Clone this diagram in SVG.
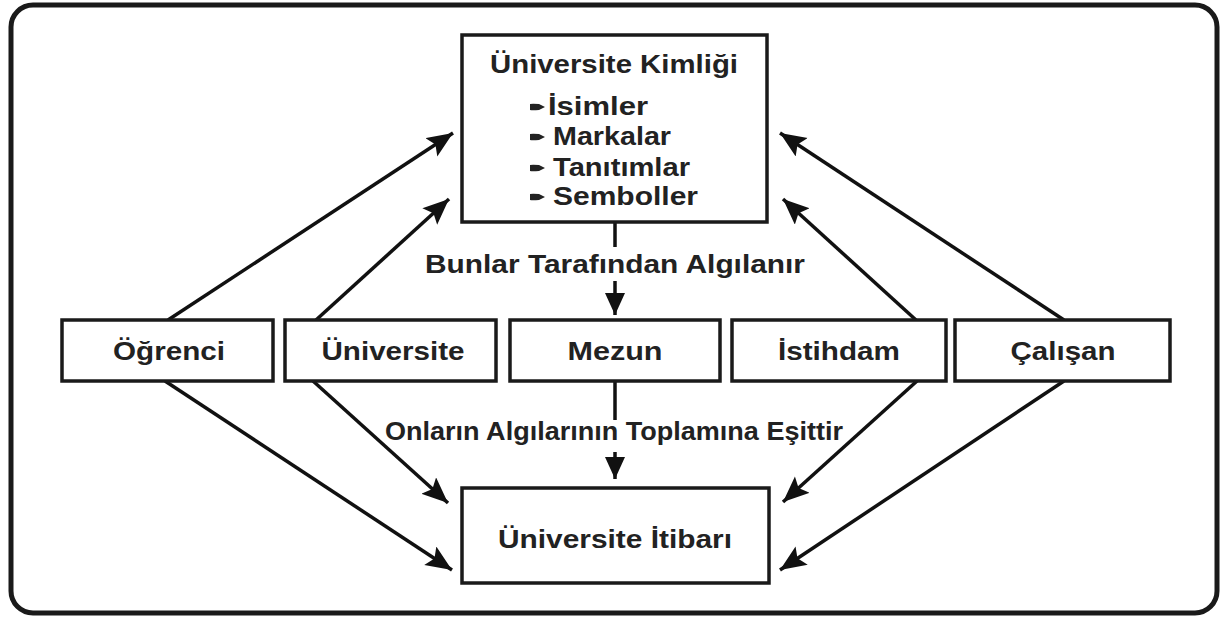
<svg xmlns="http://www.w3.org/2000/svg" width="1222" height="619" viewBox="0 0 1222 619">
<style>
.box{fill:#fff;stroke:#1a1a1a;stroke-width:3.5}
.t{font-family:"Liberation Sans",Arial,sans-serif;font-weight:bold;font-size:26px;fill:#222;text-anchor:middle}
.ti{font-family:"Liberation Sans",Arial,sans-serif;font-weight:bold;font-size:26px;fill:#222}
.c{stroke:#111;stroke-width:3.5;fill:none}
.b{fill:#222}
</style>
<defs>
<marker id="ah" markerUnits="userSpaceOnUse" markerWidth="30" markerHeight="24" refX="26" refY="11" orient="auto">
<path d="M0,0 L26,11 L0,22 L5,11 Z" fill="#111"/>
</marker>
<marker id="av" markerUnits="userSpaceOnUse" markerWidth="26" markerHeight="26" refX="22" refY="10" orient="auto">
<path d="M0,0 L22,10 L0,20 Z" fill="#111"/>
</marker>
</defs>
<rect x="0" y="0" width="1222" height="619" fill="#fff"/>
<rect id="frame" x="11" y="5" width="1206" height="608" rx="22" ry="22" fill="none" stroke="#1a1a1a" stroke-width="5"/>

<g id="connectors">
<line class="c" x1="615" y1="222" x2="615" y2="247"/>
<line class="c" x1="615" y1="281" x2="615" y2="315" marker-end="url(#av)"/>
<line class="c" x1="615" y1="381" x2="615" y2="420"/>
<line class="c" x1="615" y1="452" x2="615" y2="479" marker-end="url(#av)"/>
<line class="c" x1="168" y1="320" x2="453" y2="133" marker-end="url(#ah)"/>
<line class="c" x1="316" y1="320" x2="449" y2="199" marker-end="url(#ah)"/>
<line class="c" x1="916" y1="320" x2="783" y2="199" marker-end="url(#ah)"/>
<line class="c" x1="1064" y1="320" x2="780" y2="133" marker-end="url(#ah)"/>
<line class="c" x1="165" y1="381" x2="452" y2="570" marker-end="url(#ah)"/>
<line class="c" x1="313" y1="381" x2="448" y2="503" marker-end="url(#ah)"/>
<line class="c" x1="917" y1="381" x2="783" y2="502" marker-end="url(#ah)"/>
<line class="c" x1="1064" y1="381" x2="780" y2="570" marker-end="url(#ah)"/>
<text class="t" x="615" y="273" textLength="380" lengthAdjust="spacingAndGlyphs">Bunlar Tarafından Algılanır</text>
<text class="t" x="614" y="440" textLength="458" lengthAdjust="spacingAndGlyphs">Onların Algılarının Toplamına Eşittir</text>
</g>

<g id="kimlik">
<rect class="box" x="462" y="35" width="305" height="187"/>
<text class="t" x="614" y="73" textLength="248" lengthAdjust="spacingAndGlyphs">Üniversite Kimliği</text>
<path class="b" d="M530,104 Q532,103.5 539,104 L545,107 L539,110 Q532,110.5 530,110 Z"/>
<text class="ti" x="548" y="115" textLength="100" lengthAdjust="spacingAndGlyphs">İsimler</text>
<path class="b" d="M530,134 Q532,133.5 539,134 L545,137 L539,140 Q532,140.5 530,140 Z"/>
<text class="ti" x="553" y="145" textLength="118" lengthAdjust="spacingAndGlyphs">Markalar</text>
<path class="b" d="M530,165 Q532,164.5 539,165 L545,168 L539,171 Q532,171.5 530,171 Z"/>
<text class="ti" x="553" y="176" textLength="137" lengthAdjust="spacingAndGlyphs">Tanıtımlar</text>
<path class="b" d="M530,194 Q532,193.5 539,194 L545,197 L539,200 Q532,200.5 530,200 Z"/>
<text class="ti" x="553" y="205" textLength="145" lengthAdjust="spacingAndGlyphs">Semboller</text>
</g>

<g id="ogrenci">
<rect class="box" x="62" y="320" width="211" height="61"/>
<text class="t" x="169" y="360" textLength="112" lengthAdjust="spacingAndGlyphs">Öğrenci</text>
</g>
<g id="universite">
<rect class="box" x="285" y="320" width="211" height="61"/>
<text class="t" x="393" y="360" textLength="143" lengthAdjust="spacingAndGlyphs">Üniversite</text>
</g>
<g id="mezun">
<rect class="box" x="510" y="320" width="210" height="61"/>
<text class="t" x="615" y="360" textLength="95" lengthAdjust="spacingAndGlyphs">Mezun</text>
</g>
<g id="istihdam">
<rect class="box" x="732" y="320" width="214" height="61"/>
<text class="t" x="839" y="360" textLength="122" lengthAdjust="spacingAndGlyphs">İstihdam</text>
</g>
<g id="calisan">
<rect class="box" x="955" y="320" width="215" height="61"/>
<text class="t" x="1063" y="360" textLength="105" lengthAdjust="spacingAndGlyphs">Çalışan</text>
</g>

<g id="itibar">
<rect class="box" x="462" y="488" width="307" height="95"/>
<text class="t" x="615" y="548" textLength="234" lengthAdjust="spacingAndGlyphs">Üniversite İtibarı</text>
</g>
</svg>
